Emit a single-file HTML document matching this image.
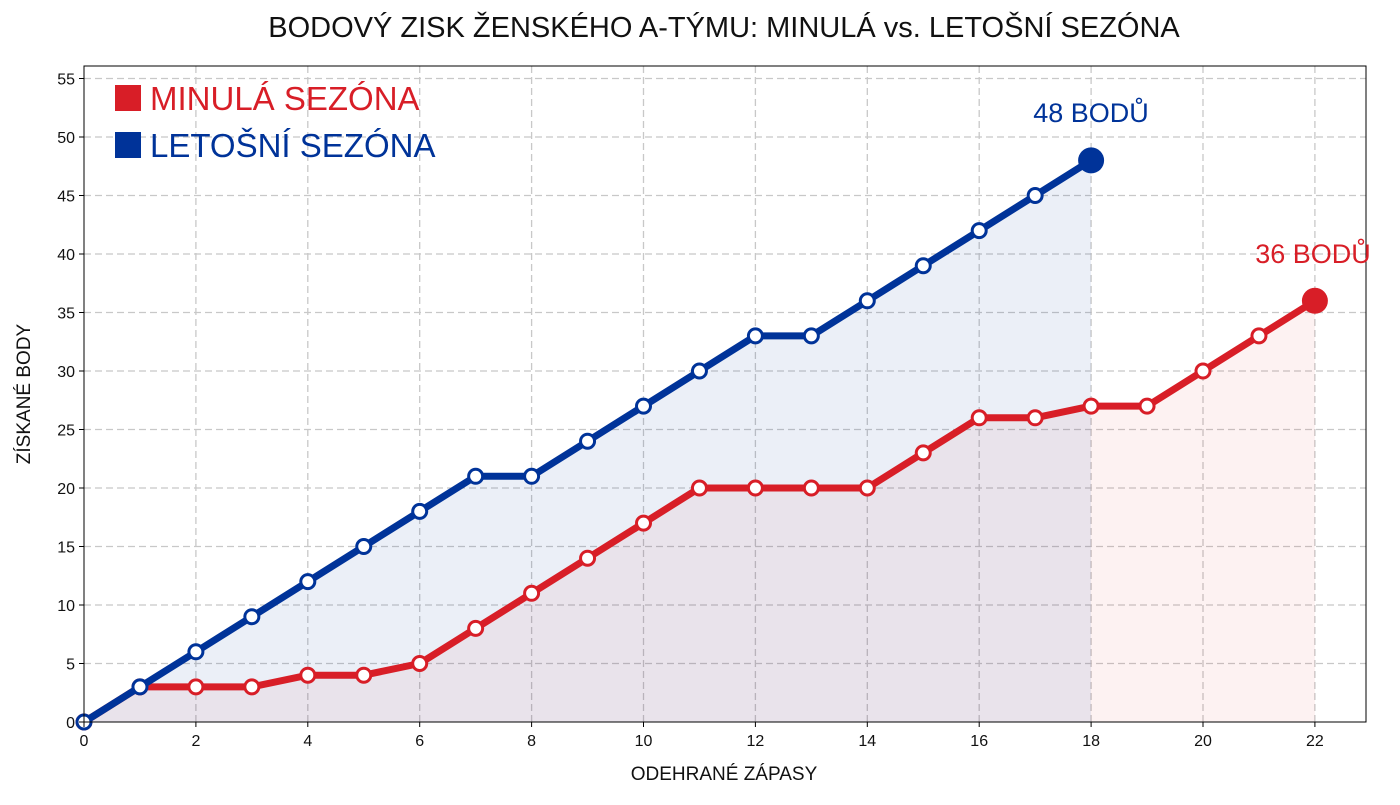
<!DOCTYPE html>
<html><head><meta charset="utf-8"><style>
body{margin:0;background:#fff;}
svg text{font-family:"Liberation Sans",sans-serif;}
</style></head><body>
<svg width="1400" height="800" xmlns="http://www.w3.org/2000/svg">
<rect width="1400" height="800" fill="#fff"/>
<text x="724" y="37" font-size="29" text-anchor="middle" fill="#111">BODOVÝ ZISK ŽENSKÉHO A-TÝMU: MINULÁ vs. LETOŠNÍ SEZÓNA</text>
<g id="grid" stroke="#c8c8c8" stroke-width="1.3" stroke-dasharray="7,4">
</g>
<g id="fills"></g>
<g id="lines"></g>
<rect x="84" y="66" width="1282" height="656" fill="none" stroke="#000" stroke-width="1"/>
<g id="ticks" font-size="16" fill="#111"></g>
<text x="724" y="780" font-size="19" text-anchor="middle" fill="#111">ODEHRANÉ ZÁPASY</text>
<text transform="translate(30,394) rotate(-90)" font-size="19" text-anchor="middle" fill="#111">ZÍSKANÉ BODY</text>
<rect x="115" y="85" width="26" height="26" fill="#d81e27"/>
<text x="150" y="110" font-size="33" fill="#d81e27">MINULÁ SEZÓNA</text>
<rect x="115" y="132" width="26" height="26" fill="#003399"/>
<text x="150" y="157" font-size="33" fill="#003399">LETOŠNÍ SEZÓNA</text>
<text x="1091" y="122" font-size="27" text-anchor="middle" fill="#003399">48 BODŮ</text>
<text x="1313" y="263" font-size="27" text-anchor="middle" fill="#d81e27">36 BODŮ</text>
</svg>
<script>
const ns="http://www.w3.org/2000/svg";
const X=v=>84+v*55.95, Y=v=>722-v*11.7;
function el(p,t,a,txt){const e=document.createElementNS(ns,t);for(const k in a)e.setAttribute(k,a[k]);if(txt!==undefined)e.textContent=txt;document.getElementById(p).appendChild(e);return e;}
for(let i=2;i<=22;i+=2)el("grid","line",{x1:X(i),x2:X(i),y1:66,y2:722});
for(let j=5;j<=55;j+=5)el("grid","line",{x1:84,x2:1366,y1:Y(j),y2:Y(j)});
for(let i=0;i<=22;i+=2){el("ticks","line",{x1:X(i),x2:X(i),y1:722,y2:727,stroke:"#000"});el("ticks","text",{x:X(i),y:746,"text-anchor":"middle"},i);}
for(let j=0;j<=55;j+=5){el("ticks","line",{x1:79,x2:84,y1:Y(j),y2:Y(j),stroke:"#000"});el("ticks","text",{x:75,y:Y(j)+6,"text-anchor":"end"},j);}
const red=[0,3,3,3,4,4,5,8,11,14,17,20,20,20,20,23,26,26,27,27,30,33,36];
const blue=[0,3,6,9,12,15,18,21,21,24,27,30,33,33,36,39,42,45,48];
function series(d,c,fill){
 const pts=d.map((v,i)=>X(i)+","+Y(v)).join(" ");
 el("fills","polygon",{points:X(0)+","+Y(0)+" "+pts+" "+X(d.length-1)+","+Y(0),fill:fill});
 el("lines","polyline",{points:pts,fill:"none",stroke:c,"stroke-width":7,"stroke-linejoin":"round"});
 d.forEach((v,i)=>{ if(i==d.length-1) el("lines","circle",{cx:X(i),cy:Y(v),r:13,fill:c});
  else el("lines","circle",{cx:X(i),cy:Y(v),r:7,fill:"#fff",stroke:c,"stroke-width":3});});
}
series(red,"#d81e27","rgba(216,30,39,0.06)");
series(blue,"#003399","rgba(0,51,153,0.08)");
</script>
</body></html>
